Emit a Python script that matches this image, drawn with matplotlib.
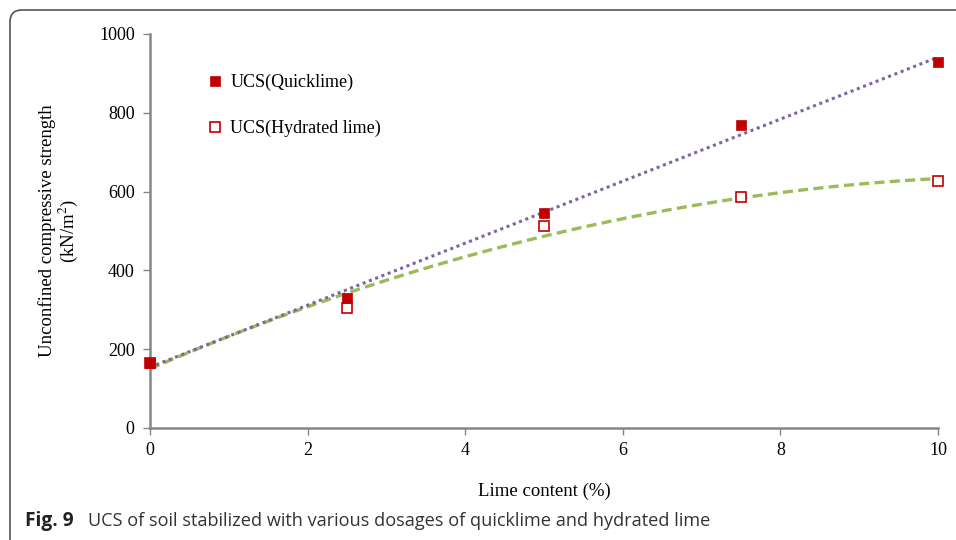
import numpy as np
import matplotlib
matplotlib.use("Agg")
import matplotlib.pyplot as plt
from matplotlib.patches import FancyBboxPatch
from matplotlib.transforms import IdentityTransform

# lime content (%) and unconfined compressive strength (kN/m2)
lime = [0, 2.5, 5, 7.5, 10]
ucs_quick = [165, 330, 546, 769, 929]
ucs_hydrated = [165, 304, 513, 587, 627]

serif = "Liberation Serif"
axis_grey = "#868686"
plt.rcParams["mathtext.fontset"] = "stix"

fig = plt.figure(figsize=(9.56, 5.4), dpi=100)
ax = fig.add_axes([150 / 956, (540 - 428) / 540, (938 - 150) / 956, (428 - 34) / 540])

# trendlines: linear for quicklime, 2nd order polynomial for hydrated lime
xs = np.linspace(0, 10, 200)
lin = np.polyfit(lime, ucs_quick, 1)
quad = np.polyfit(lime, ucs_hydrated, 2)
ax.plot(xs, np.polyval(quad, xs), color="#9BBB59", lw=2.4, ls=(0, (3, 1.6)), zorder=2)
ax.plot(xs, np.polyval(lin, xs), color="#8064A2", lw=2.2, ls=(0, (1, 1.2)), zorder=2)

h_hyd, = ax.plot(lime, ucs_hydrated, ls="none", marker="s", ms=6.5, mfc="white",
                 mec="#C00000", mew=1.2, zorder=3, clip_on=False, label="UCS(Hydrated lime)")
h_q, = ax.plot(lime, ucs_quick, ls="none", marker="s", ms=6.8, mfc="#C00000",
               mec="#C00000", mew=0.5, zorder=4, clip_on=False, label="UCS(Quicklime)")

ax.set_xlim(0, 10)
ax.set_ylim(0, 1000)
ax.set_xticks([0, 2, 4, 6, 8, 10])
ax.set_yticks([0, 200, 400, 600, 800, 1000])
for s in ["top", "right"]:
    ax.spines[s].set_visible(False)
for s in ["left", "bottom"]:
    ax.spines[s].set_color(axis_grey)
    ax.spines[s].set_linewidth(1.8)
ax.tick_params(direction="out", length=5, width=1, color=axis_grey, labelsize=13, pad=6)
for lab in ax.get_xticklabels() + ax.get_yticklabels():
    lab.set_fontfamily(serif)
ax.tick_params(axis="x", pad=5)

ax.set_xlabel("Lime content (%)", fontfamily=serif, fontsize=13.5, labelpad=17)
ax.set_ylabel("Unconfined compressive strength\n(kN/m$^2$)", fontfamily=serif,
              fontsize=13.5, labelpad=14, linespacing=1.0)

ax.legend(handles=[h_q, h_hyd], loc="upper left", bbox_to_anchor=(0.055, 0.94),
          frameon=False, prop={"family": serif, "size": 13}, labelspacing=1.6,
          handlelength=0.6, handletextpad=0.55, markerscale=1.0)

# figure caption
fig.text(25 / 956, 1 - 521 / 540, "Fig. 9", fontfamily="Open Sans", fontweight="bold",
         fontsize=13.8, va="center", ha="left", color="#222222")
fig.text(88 / 956, 1 - 521 / 540,
         "UCS of soil stabilized with various dosages of quicklime and hydrated lime",
         fontfamily="Open Sans", fontsize=13.1, va="center", ha="left", color="#333333")

# panel frame with rounded corner
frame = FancyBboxPatch((10, -20), 1100, 550,
                       boxstyle="round,pad=0,rounding_size=12", transform=IdentityTransform(),
                       fill=False, ec="#555555", lw=1.2)
fig.patches.append(frame)

fig.savefig("out.png", dpi=100)
